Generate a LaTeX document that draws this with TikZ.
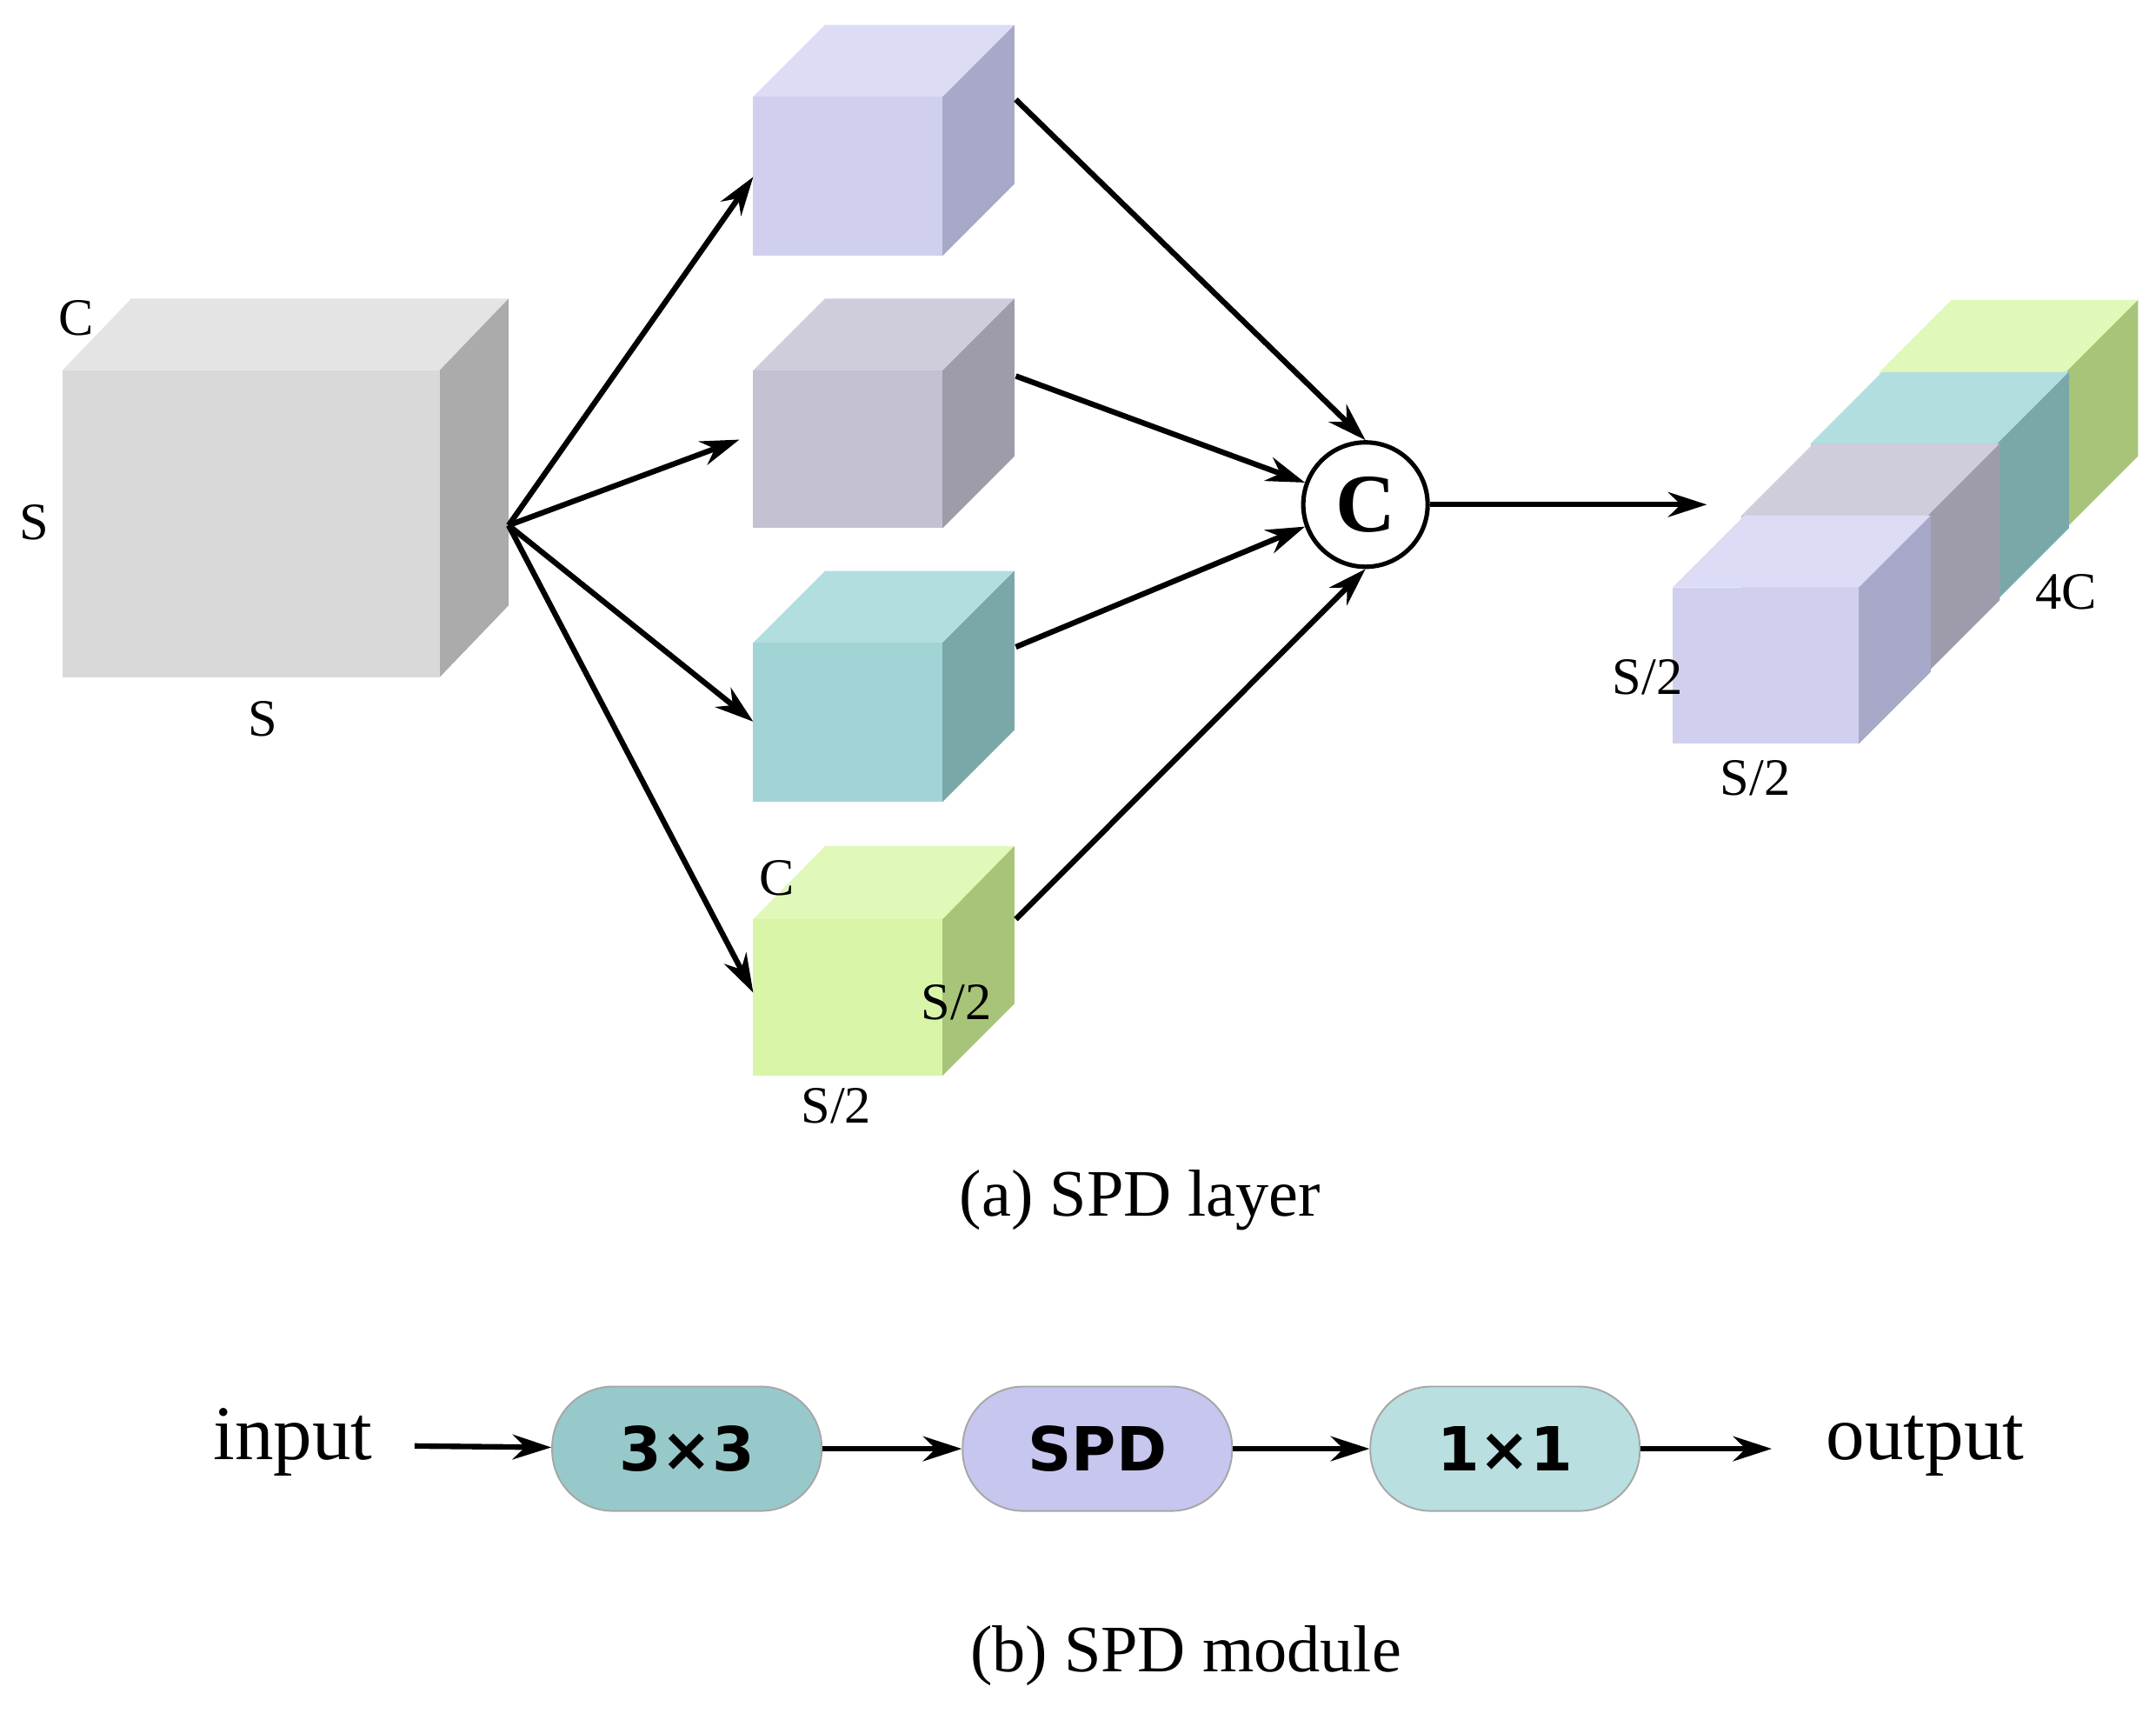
\documentclass[tikz,border=0pt]{standalone}
\usepackage{fontspec}
\setmainfont{Liberation Serif}
\newfontfamily\sansb{DejaVu Sans}
\usetikzlibrary{arrows.meta}
\definecolor{pF}{HTML}{D0D0EE}\definecolor{pT}{HTML}{DCDCF6}\definecolor{pS}{HTML}{A8A8C8}
\definecolor{gF}{HTML}{C4C2D2}\definecolor{gT}{HTML}{CFCDDC}\definecolor{gS}{HTML}{9E9CAA}
\definecolor{tF}{HTML}{A2D4D6}\definecolor{tT}{HTML}{B2DEDF}\definecolor{tS}{HTML}{7AA8A8}
\definecolor{lF}{HTML}{D8F5A8}\definecolor{lT}{HTML}{E0F8B8}\definecolor{lS}{HTML}{A8C478}
\definecolor{wF}{HTML}{D9D9D9}\definecolor{wT}{HTML}{E4E4E4}\definecolor{wS}{HTML}{ABABAB}
\begin{document}
\begin{tikzpicture}[x=0.5pt,y=-0.5pt,
 arr/.style={-{Stealth[length=14pt,width=9pt]},line width=2pt},
 lab/.style={font=\fontsize{19}{20}\selectfont},
 captext/.style={font=\fontsize{24}{26}\selectfont},
 box/.style={rounded corners=22pt,minimum width=97.5pt,minimum height=45pt,draw=black!35,line width=0.6pt,font=\sansb\bfseries\fontsize{22}{24}\selectfont}]
\useasboundingbox (0,0) rectangle (1560,1244);
% big cube
\fill[wT] (45,268)--(95,216)--(368,216)--(318,268)--cycle;
\fill[wS] (318,268)--(368,216)--(368,438)--(318,490)--cycle;
\fill[wF] (45,268) rectangle (318,490);
% small cubes
\fill[pT] (545,70)--(597,18)--(734,18)--(682,70)--cycle;
\fill[pS] (682,70)--(734,18)--(734,133)--(682,185)--cycle;
\fill[pF] (545,70) rectangle (682,185);
\fill[gT] (545,268)--(597,216)--(734,216)--(682,268)--cycle;
\fill[gS] (682,268)--(734,216)--(734,330)--(682,382)--cycle;
\fill[gF] (545,268) rectangle (682,382);
\fill[tT] (545,465)--(597,413)--(734,413)--(682,465)--cycle;
\fill[tS] (682,465)--(734,413)--(734,528)--(682,580)--cycle;
\fill[tF] (545,465) rectangle (682,580);
\fill[lT] (545,665)--(597,612)--(734,612)--(682,665)--cycle;
\fill[lS] (682,665)--(734,612)--(734,726)--(682,778)--cycle;
\fill[lF] (545,665) rectangle (682,778);
% output stack
\foreach \k/\F/\T/\S in {3/lF/lT/lS,2/tF/tT/tS,1/gF/gT/gS,0/pF/pT/pS}{
 \pgfmathsetmacro\X{1210+50*\k}\pgfmathsetmacro\Y{425-52*\k}
 \fill[\T] (\X,\Y)--(\X+52,\Y-52)--(\X+187,\Y-52)--(\X+135,\Y)--cycle;
 \fill[\S] (\X+135,\Y)--(\X+187,\Y-52)--(\X+187,\Y+61)--(\X+135,\Y+113)--cycle;
 \fill[\F] (\X,\Y) rectangle (\X+135,\Y+113);}
% nodes
\coordinate (src) at (368,380);
\coordinate (i1) at (545,128);\coordinate (i2) at (535,318);
\coordinate (i3) at (545,522);\coordinate (i4) at (545,718);
\coordinate (o1) at (735,72);\coordinate (o2) at (735,272);
\coordinate (o3) at (735,468);\coordinate (o4) at (735,665);
\node[circle,draw,line width=1.6pt,fill=white,minimum size=45pt,inner sep=0,font=\bfseries\fontsize{30}{30}\selectfont] (cat) at (988,365) {C};
\coordinate (out) at (1235,365);
\foreach \i in {1,...,4} \draw[arr] (src)--(i\i);
\draw[arr] (o1)--(cat.north);
\draw[arr] (o2)--(cat.160);
\draw[arr] (o3)--(cat.200);
\draw[arr] (o4)--(cat.south);
\draw[arr] (cat)--(out);
% labels
\node[lab] (l1) at (55,230) {C};
\node[lab] (l2) at (25,378) {S};
\node[lab] (l3) at (190,520) {S};
\node[lab] (l4) at (562,635) {C};
\node[lab] (l5) at (692,725) {S/2};
\node[lab] (l6) at (605,800) {S/2};
\node[lab] (l7) at (1192,490) {S/2};
\node[lab] (l8) at (1270,563) {S/2};
\node[lab] (l9) at (1495,428) {4C};
\node[captext] (ca) at (825,868) {(a) SPD layer};
\node[captext] (cb) at (858,1198) {(b) SPD module};
% bottom
\node[font=\fontsize{28}{30}\selectfont] (in) at (212,1043) {input};
\node[box,fill=tF!75!tS] (b1) at (497,1048) {3×3};
\node[box,fill=pF!95!blue] (b2) at (794,1048) {SPD};
\node[box,fill=tF!75!white] (b3) at (1089,1048) {1×1};
\node[font=\fontsize{28}{30}\selectfont] (ou) at (1393,1046) {output};
\draw[arr] (300,1046)--(b1);
\draw[arr] (b1)--(b2);
\draw[arr] (b2)--(b3);
\draw[arr] (b3)--(1282,1048);
\end{tikzpicture}
\end{document}
